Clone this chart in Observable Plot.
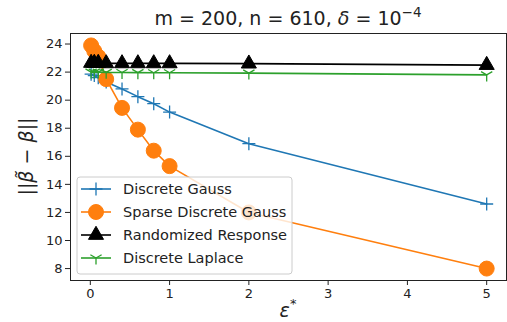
<!DOCTYPE html>
<html>
<head>
<meta charset="utf-8">
<script src="https://cdn.jsdelivr.net/npm/d3@7"></script>
<script src="https://cdn.jsdelivr.net/npm/@observablehq/plot@0.6"></script>
<style>
  html, body { margin: 0; padding: 0; background: #fff; }
  #chart svg { display: block; }
</style>
</head>
<body>
<div id="chart"></div>
<script>
// ---- data ----
const epsilons = [0.01, 0.05, 0.1, 0.2, 0.4, 0.6, 0.8, 1, 2, 5];
const discreteGauss = [21.85, 21.75, 21.6, 21.3, 20.8, 20.25, 19.75, 19.15, 16.9, 12.6];
const sparseDiscreteGauss = [23.9, 23.5, 23.1, 21.5, 19.45, 17.9, 16.4, 15.3, 12.0, 8.0];
const randomizedResponse = [22.65, 22.65, 22.65, 22.62, 22.62, 22.62, 22.62, 22.62, 22.6, 22.5];
const discreteLaplace = [22.0, 22.0, 22.0, 21.98, 21.97, 21.96, 21.95, 21.95, 21.93, 21.8];
const seriesNames = ["Discrete Gauss", "Sparse Discrete Gauss", "Randomized Response", "Discrete Laplace"];
const seriesColors = ["#1f77b4", "#ff7f0e", "#000000", "#2ca02c"];
const xTicks = [0, 1, 2, 3, 4, 5];
const yTicks = [8, 10, 12, 14, 16, 18, 20, 22, 24];

const allSeries = [discreteGauss, sparseDiscreteGauss, randomizedResponse, discreteLaplace];
const rows = allSeries.flatMap((vals, si) =>
  vals.map((v, i) => ({series: seriesNames[si], x: epsilons[i], y: v})));

// custom matplotlib-like marker shapes
const plusSym = {draw(ctx, size) { const r = Math.sqrt(size / Math.PI);
  ctx.moveTo(-r, 0); ctx.lineTo(r, 0); ctx.moveTo(0, -r); ctx.lineTo(0, r); }};
const triDownSym = {draw(ctx, size) { const r = Math.sqrt(size / Math.PI);
  ctx.moveTo(0, 0); ctx.lineTo(0, r); ctx.moveTo(0, 0); ctx.lineTo(-r * 0.866, -r * 0.5);
  ctx.moveTo(0, 0); ctx.lineTo(r * 0.866, -r * 0.5); }};

const markerSpec = {
  "Discrete Gauss": {symbol: plusSym, r: 6.5, fill: "none", stroke: seriesColors[0], sw: 1.3},
  "Sparse Discrete Gauss": {symbol: "circle", r: 7.5, fill: seriesColors[1], stroke: seriesColors[1], sw: 1},
  "Randomized Response": {symbol: "triangle", r: 5.6, fill: seriesColors[2], stroke: seriesColors[2], sw: 1},
  "Discrete Laplace": {symbol: triDownSym, r: 6.5, fill: "none", stroke: seriesColors[3], sw: 1.3}
};

const font = "DejaVu Sans, sans-serif";
const W = 507, H = 322;
const mL = 70, mR = 1, mT = 33, mB = 42;

const marks = [];
seriesNames.forEach((name, si) => {
  const data = rows.filter(d => d.series === name);
  const m = markerSpec[name];
  marks.push(Plot.line(data, {x: "x", y: "y", stroke: seriesColors[si], strokeWidth: 1.6}));
  marks.push(Plot.dot(data, {x: "x", y: "y", symbol: m.symbol, r: m.r,
    fill: m.fill, stroke: m.stroke, strokeWidth: m.sw}));
});

const chart = Plot.plot({
  width: W, height: H,
  marginLeft: mL, marginRight: mR, marginTop: mT, marginBottom: mB,
  style: {fontFamily: font, fontSize: "13px", color: "#222", background: "#fff"},
  x: {domain: [-0.25, 5.25], label: null},
  y: {domain: [7.15, 24.75], label: null},
  marks: [
    ...marks,
    Plot.axisX({ticks: xTicks, tickSize: 5, tickPadding: 3, fontSize: 13, tickFormat: d3.format("d"), label: null}),
    Plot.axisY({ticks: yTicks, tickSize: 5, tickPadding: 3, fontSize: 13, tickFormat: d3.format("d"), label: null}),
    Plot.frame({stroke: "#222", strokeWidth: 1})
  ]
});
document.getElementById("chart").appendChild(chart);

// ---- title, axis labels, legend (added in pixel space) ----
const svg = d3.select(chart);
const cx = mL + (W - mL - mR) / 2;

const title = svg.append("text").attr("x", cx).attr("y", 25)
  .attr("text-anchor", "middle").attr("font-family", font).attr("font-size", 19).attr("fill", "#222");
title.append("tspan").text("m = 200, n = 610, ");
title.append("tspan").attr("font-style", "italic").text("δ");
title.append("tspan").text(" = 10");
title.append("tspan").attr("font-size", 13.5).attr("dy", -8).text("−4");

const xl = svg.append("text").attr("x", cx).attr("y", 317)
  .attr("text-anchor", "middle").attr("font-family", font).attr("font-size", 19).attr("fill", "#222");
xl.append("tspan").attr("font-style", "italic").text("ε");
xl.append("tspan").attr("font-size", 13).attr("dy", -9).text("*");

const yl = svg.append("text")
  .attr("transform", `translate(33,${mT + (H - mT - mB) / 2}) rotate(-90)`)
  .attr("text-anchor", "middle").attr("font-family", font).attr("font-size", 19).attr("fill", "#222");
yl.append("tspan").text("||");
yl.append("tspan").attr("font-style", "italic").text("β̃");
yl.append("tspan").text(" − ");
yl.append("tspan").attr("font-style", "italic").text("β");
yl.append("tspan").text("||");

const lg = svg.append("g").attr("text-anchor", "start");
lg.append("rect").attr("x", 77).attr("y", 177).attr("width", 215).attr("height", 97)
  .attr("rx", 3).attr("fill", "#fff").attr("fill-opacity", 0.8)
  .attr("stroke", "#cccccc").attr("stroke-width", 1);
const entryY = [189, 212, 235, 258];
seriesNames.forEach((name, i) => {
  const y = entryY[i];
  const m = markerSpec[name];
  lg.append("line").attr("x1", 81).attr("x2", 111).attr("y1", y).attr("y2", y)
    .attr("stroke", seriesColors[i]).attr("stroke-width", 1.6);
  const sym = typeof m.symbol === "string" ? (m.symbol === "circle" ? d3.symbolCircle : d3.symbolTriangle) : m.symbol;
  lg.append("path").attr("transform", `translate(96,${y})`)
    .attr("d", d3.symbol(sym, Math.PI * m.r * m.r)())
    .attr("fill", m.fill).attr("stroke", m.stroke).attr("stroke-width", m.sw);
  lg.append("text").attr("x", 123).attr("y", y).attr("dy", "0.35em").attr("text-anchor", "start")
    .attr("font-family", font).attr("font-size", 14.5).attr("fill", "#222").text(name);
});
</script>
</body>
</html>
